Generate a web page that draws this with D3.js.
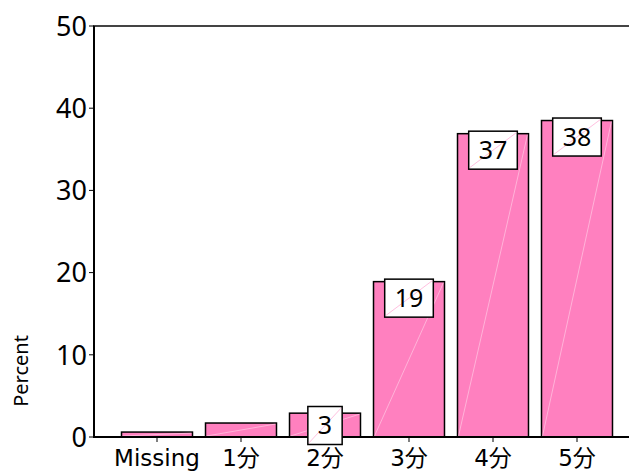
<!DOCTYPE html>
<html>
<head>
<meta charset="utf-8">
<script src="https://cdn.jsdelivr.net/npm/d3@7"></script>
<style>
  body { margin: 0; background: #fff; }
  svg { display: block; }
</style>
</head>
<body>
<div id="chart"></div>
<script>
// categories and values (percent)
var categories = ['Missing', '1分', '2分', '3分', '4分', '5分'];
var percents = [0.6, 1.7, 2.9, 18.9, 36.9, 38.5];
var barLabels = [null, null, '3', '19', '37', '38'];
var yTicks = [0, 10, 20, 30, 40, 50];

var width = 629, height = 471;

var svg = d3.select('#chart').append('svg')
  .attr('width', width)
  .attr('height', height);

var x = d3.scaleBand()
  .domain(categories)
  .range([115, 619])
  .paddingInner(0.155)
  .paddingOuter(0.0775);

var y = d3.scaleLinear()
  .domain([0, 50])
  .range([437, 26]);

// top frame line
svg.append('line')
  .attr('x1', 93).attr('x2', width)
  .attr('y1', y(50)).attr('y2', y(50))
  .attr('stroke', '#444').attr('stroke-width', 2);

// bars
var bars = svg.selectAll('.bar')
  .data(percents)
  .enter().append('g')
  .attr('class', 'bar');

bars.append('rect')
  .attr('x', function(d, i) { return x(categories[i]); })
  .attr('y', function(d) { return y(d); })
  .attr('width', x.bandwidth())
  .attr('height', function(d) { return y(0) - y(d); })
  .attr('fill', '#ff80bf')
  .attr('stroke', '#000')
  .attr('stroke-width', 1.5);

// faint diagonal streak seen on the bars
bars.append('line')
  .attr('x1', function(d, i) { return x(categories[i]) + 1; })
  .attr('y1', y(0) - 1)
  .attr('x2', function(d, i) { return x(categories[i]) + x.bandwidth() - 1; })
  .attr('y2', function(d) { return y(d) + 1; })
  .attr('stroke', '#fff')
  .attr('stroke-opacity', 0.4)
  .attr('stroke-width', 1);

// x axis
var xAxis = svg.append('g')
  .attr('transform', 'translate(0,' + y(0) + ')');
xAxis.append('line')
  .attr('x1', 93).attr('x2', width)
  .attr('stroke', '#000').attr('stroke-width', 2);
xAxis.selectAll('.tick')
  .data(categories)
  .enter().append('line')
  .attr('x1', function(d) { return x(d) + x.bandwidth() / 2; })
  .attr('x2', function(d) { return x(d) + x.bandwidth() / 2; })
  .attr('y1', 0).attr('y2', 5)
  .attr('stroke', '#000').attr('stroke-width', 1);
xAxis.selectAll('.lbl')
  .data(categories)
  .enter().append('text')
  .attr('x', function(d) { return x(d) + x.bandwidth() / 2; })
  .attr('y', 29)
  .attr('text-anchor', 'middle')
  .style('font-family', '"DejaVu Sans", "Noto Sans CJK JP", sans-serif')
  .style('font-size', '23px')
  .attr('fill', '#000')
  .text(function(d) { return d; });

// y axis
var yAxis = svg.append('g');
yAxis.append('line')
  .attr('x1', 94).attr('x2', 94)
  .attr('y1', y(50)).attr('y2', y(0) + 1)
  .attr('stroke', '#000').attr('stroke-width', 2);
yAxis.selectAll('.tick')
  .data(yTicks)
  .enter().append('line')
  .attr('x1', 89).attr('x2', 94)
  .attr('y1', function(d) { return y(d); })
  .attr('y2', function(d) { return y(d); })
  .attr('stroke', '#000').attr('stroke-width', 1);
yAxis.selectAll('.lbl')
  .data(yTicks)
  .enter().append('text')
  .attr('x', 87)
  .attr('y', function(d) { return y(d); })
  .attr('dy', '0.36em')
  .attr('text-anchor', 'end')
  .style('font-family', '"Noto Sans", sans-serif')
  .style('font-size', '27px')
  .attr('fill', '#000')
  .text(function(d) { return d; });

svg.append('text')
  .attr('transform', 'translate(28,371) rotate(-90)')
  .attr('text-anchor', 'middle')
  .style('font-family', '"Noto Sans", sans-serif')
  .style('font-size', '20px')
  .attr('fill', '#000')
  .text('Percent');

// value boxes
var boxes = svg.selectAll('.box')
  .data(percents)
  .enter().filter(function(d, i) { return barLabels[i] != null; })
  .append('g')
  .attr('class', 'box');

boxes.each(function(d) {
  var i = percents.indexOf(d);
  var g = d3.select(this);
  var cx = x(categories[i]) + x.bandwidth() / 2;
  var cy = Math.min(y(d) + 16, y(0) - 12);
  var t = g.append('text')
    .attr('x', cx)
    .attr('y', cy)
    .attr('dy', '0.36em')
    .attr('text-anchor', 'middle')
    .style('font-family', '"Noto Sans", sans-serif')
    .style('font-size', '25px')
    .attr('fill', '#000')
    .text(barLabels[i]);
  var w = t.node().getComputedTextLength() + 20, h = 38;
  g.insert('rect', 'text')
    .attr('x', cx - w / 2).attr('y', cy - h / 2 + 0.5)
    .attr('width', w).attr('height', h)
    .attr('fill', '#fff')
    .attr('stroke', '#000').attr('stroke-width', 1.5);
  g.insert('line', 'text')
    .attr('x1', cx - w / 2 + 1).attr('y1', cy + h / 2 - 1)
    .attr('x2', cx + w / 2 - 1).attr('y2', cy - h / 2 + 2)
    .attr('stroke', '#ff80bf').attr('stroke-opacity', 0.5)
    .attr('stroke-width', 1);
});
</script>
</body>
</html>
